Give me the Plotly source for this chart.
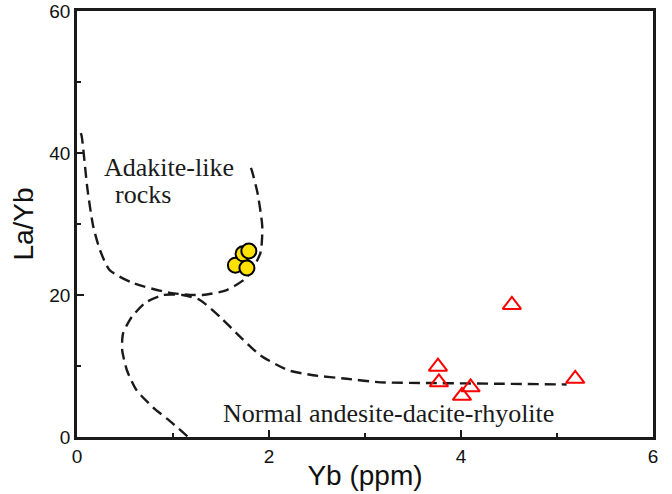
import plotly.graph_objects as go

# Data
adakite_yb = [1.65, 1.73, 1.79, 1.77]
adakite_layb = [24.2, 25.8, 26.2, 23.8]

normal_yb = [4.53, 3.76, 3.77, 4.01, 4.10, 5.19]
normal_layb = [18.6, 9.9, 7.7, 5.8, 7.0, 8.2]

# Field boundary (adakite-like rocks)
b1_x = [0.04, 0.05, 0.11, 0.17, 0.24, 0.34, 0.58, 0.97, 1.31, 1.56, 1.77, 1.91, 1.93, 1.88, 1.82, 1.79]
b1_y = [42.8, 42.3, 34.8, 29.6, 26.3, 23.5, 21.7, 20.3, 20.0, 20.7, 22.5, 25.9, 29.6, 34.4, 37.6, 38.6]

# Field boundary (normal andesite-dacite-rhyolite)
b2_x = [1.15, 0.99, 0.79, 0.62, 0.52, 0.47, 0.48, 0.57, 0.71, 0.90, 1.10, 1.28, 1.49, 1.70, 1.91, 2.20,
        2.46, 2.81, 3.16, 3.68, 4.40, 5.10]
b2_y = [0.1, 2.0, 4.2, 6.6, 9.4, 12.3, 14.6, 16.9, 18.9, 20.0, 20.0, 19.3, 16.9, 14.1, 11.5, 9.4,
        8.7, 8.2, 7.7, 7.6, 7.5, 7.4]

x_ticks = [0, 2, 4, 6]
y_ticks = [0, 20, 40, 60]

fig = go.Figure()

dash_line = dict(color="#1a1a1a", width=2.4, dash="11px,6px", shape="spline", smoothing=0.6)
fig.add_trace(go.Scatter(x=b1_x, y=b1_y, mode="lines", line=dash_line, showlegend=False, hoverinfo="skip"))
fig.add_trace(go.Scatter(x=b2_x, y=b2_y, mode="lines", line=dash_line, showlegend=False, hoverinfo="skip"))

fig.add_trace(go.Scatter(
    x=adakite_yb, y=adakite_layb, mode="markers", showlegend=False,
    marker=dict(symbol="circle", size=15, color="#FFE200", line=dict(color="black", width=2)),
))
fig.add_trace(go.Scatter(
    x=normal_yb, y=normal_layb, mode="markers", showlegend=False,
    marker=dict(symbol="triangle-up-open", size=16, color="#FF0000", line=dict(color="#FF0000", width=2)),
))

serif = dict(family="Liberation Serif, Times New Roman, serif", size=26, color="#1a1a1a")
fig.add_annotation(x=0.26, y=38.0, text="Adakite-like", showarrow=False, xanchor="left", yanchor="middle", font=serif)
fig.add_annotation(x=0.37, y=34.1, text="rocks", showarrow=False, xanchor="left", yanchor="middle", font=serif)
fig.add_annotation(x=1.50, y=3.3, text="Normal andesite-dacite-rhyolite", showarrow=False, xanchor="left", yanchor="middle", font=serif)

axis_common = dict(
    showline=True, linecolor="#1a1a1a", linewidth=2.5, mirror=True,
    ticks="inside", ticklen=7, tickwidth=2, tickcolor="#1a1a1a",
    showgrid=False, zeroline=False, automargin=False,
    tickfont=dict(family="Liberation Sans, Arial, sans-serif", size=19, color="#111"),
)

title_font = dict(family="Liberation Sans, Arial, sans-serif", size=28, color="#111")

fig.update_xaxes(range=[0, 6], tickvals=x_ticks, ticktext=[str(v) for v in x_ticks],
                 minor=dict(tickvals=[1, 3, 5], ticklen=4, tickwidth=2, tickcolor="#1a1a1a", ticks="inside"),
                 title=dict(text="Yb (ppm)", font=title_font, standoff=0),
                 **axis_common)
fig.update_yaxes(range=[0, 60], tickvals=y_ticks, ticktext=[str(v) for v in y_ticks],
                 minor=dict(tickvals=[10, 30, 50], ticklen=4, tickwidth=2, tickcolor="#1a1a1a", ticks="inside"),
                 title=dict(text="La/Yb", font=title_font, standoff=8),
                 **axis_common)

fig.update_layout(
    width=672, height=494,
    margin=dict(l=77, r=19, t=11, b=57),
    paper_bgcolor="white", plot_bgcolor="white",
)

fig.write_html("out.html")
